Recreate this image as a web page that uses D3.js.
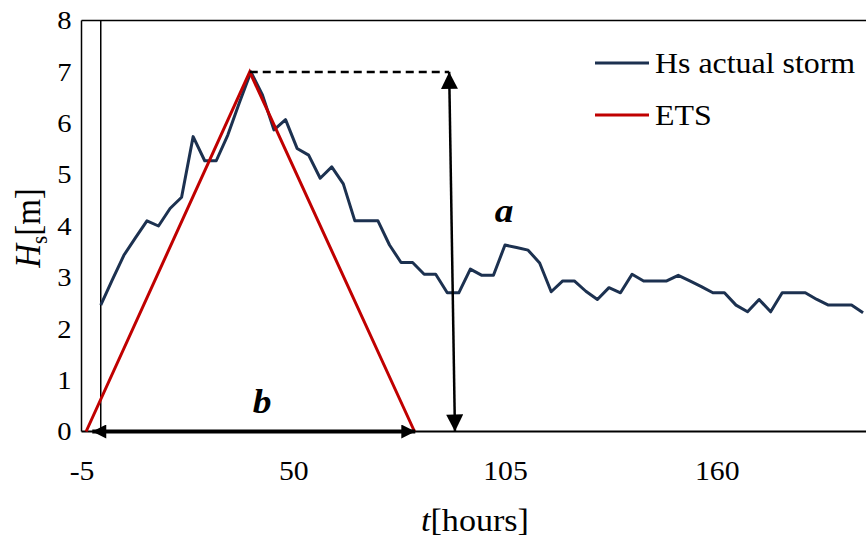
<!DOCTYPE html>
<html>
<head>
<meta charset="utf-8">
<script src="https://cdn.jsdelivr.net/npm/d3@7"></script>
<style>
  body { margin: 0; background: #fff; }
  svg { display: block; font-family: "Liberation Serif", "Times New Roman", serif; }
</style>
</head>
<body>
<svg width="866" height="542"></svg>
<script>
// storm record, one reading every 3 hours
const hours = [0, 3, 6, 9, 12, 15, 18, 21, 24, 27, 30, 33, 36, 39, 42, 45, 48, 51, 54, 57, 60, 63, 66, 69, 72, 75, 78, 81, 84, 87, 90, 93, 96, 99, 102, 105, 108, 111, 114, 117, 120, 123, 126, 129, 132, 135, 138, 141, 144, 147, 150, 153, 156, 159, 162, 165, 168, 171, 174, 177, 180, 183, 186, 189, 192, 195, 198];
const hsActual = [2.46, 2.95, 3.43, 3.77, 4.10, 4.00, 4.34, 4.56, 5.74, 5.27, 5.27, 5.77, 6.40, 7.00, 6.55, 5.87, 6.07, 5.51, 5.38, 4.93, 5.15, 4.82, 4.10, 4.10, 4.10, 3.63, 3.29, 3.29, 3.06, 3.06, 2.70, 2.70, 3.16, 3.04, 3.04, 3.63, 3.58, 3.53, 3.28, 2.72, 2.93, 2.93, 2.73, 2.57, 2.80, 2.70, 3.06, 2.93, 2.93, 2.93, 3.04, 2.93, 2.82, 2.70, 2.70, 2.46, 2.33, 2.57, 2.33, 2.70, 2.70, 2.70, 2.57, 2.46, 2.46, 2.46, 2.31];

// equivalent triangular storm
const etsHours = [-3.8, 38.7, 81.5];
const etsHs = [0, 7, 0];

// annotation arrows
const aArrowHours = [90.5, 92];   // top, bottom
const aArrowHs = [7, 0];
const bArrowHours = [-2.2, 81.7];
const peakHs = 7;

const xTicks = [-5, 50, 105, 160];
const yTicks = [0, 1, 2, 3, 4, 5, 6, 7, 8];
const seriesNames = ["Hs actual storm", "ETS"];
const seriesColors = ["#1c3150", "#c00000"];

const sx = 1.1; // the source image is a bit wider than tall

const svg = d3.select("svg");

const x = d3.scaleLinear().domain([-5, 215]).range([81.5, 928.5]);
const y = d3.scaleLinear().domain([0, 8]).range([431.5, 20.5]);

// plot frame
svg.append("line")
  .attr("x1", x(-5)).attr("x2", 866).attr("y1", y(8)).attr("y2", y(8))
  .attr("stroke", "#000").attr("stroke-width", 1.5);
svg.append("line")
  .attr("x1", x(-5)).attr("x2", x(-5)).attr("y1", y(8)).attr("y2", y(0))
  .attr("stroke", "#000").attr("stroke-width", 1.5);
svg.append("line")
  .attr("x1", x(0)).attr("x2", x(0)).attr("y1", y(8)).attr("y2", y(0))
  .attr("stroke", "#000").attr("stroke-width", 1.5);
svg.append("line")
  .attr("x1", x(-5)).attr("x2", 866).attr("y1", y(0)).attr("y2", y(0))
  .attr("stroke", "#000").attr("stroke-width", 2);

// axes (labels only)
const xAxis = svg.append("g")
  .attr("transform", `translate(0,${y(0)})`)
  .call(d3.axisBottom(x).tickValues(xTicks).tickSize(0).tickPadding(29).tickFormat(d => String(d)));
const yAxis = svg.append("g")
  .attr("transform", `translate(${x(-5)},0)`)
  .call(d3.axisLeft(y).tickValues(yTicks).tickSize(0).tickPadding(9).tickFormat(d => String(d)));
[xAxis, yAxis].forEach(g => {
  g.select(".domain").remove();
  g.selectAll("text")
    .attr("font-family", "Liberation Serif, Times New Roman, serif")
    .attr("font-size", 26)
    .attr("fill", "#000")
    .attr("transform", `scale(${sx},1)`);
});
xAxis.selectAll("text").attr("font-size", 27);

// lines
const line = d3.line().x(d => x(d[0])).y(d => y(d[1]));

svg.append("path")
  .datum(hours.map((h, i) => [h, hsActual[i]]))
  .attr("d", line)
  .attr("fill", "none")
  .attr("stroke", seriesColors[0])
  .attr("stroke-width", 3)
  .attr("stroke-linejoin", "round");

svg.append("path")
  .datum(etsHours.map((h, i) => [h, etsHs[i]]))
  .attr("d", line)
  .attr("fill", "none")
  .attr("stroke", seriesColors[1])
  .attr("stroke-width", 3)
  .attr("stroke-linejoin", "miter");

// arrow markers
const defs = svg.append("defs");
function marker(id, len, wid) {
  defs.append("marker")
    .attr("id", id)
    .attr("markerUnits", "userSpaceOnUse")
    .attr("viewBox", "0 0 10 10")
    .attr("refX", 10).attr("refY", 5)
    .attr("markerWidth", len).attr("markerHeight", wid)
    .attr("orient", "auto-start-reverse")
    .append("path")
    .attr("d", "M0,0 L10,5 L0,10 z")
    .attr("fill", "#000");
}
marker("headA", 18, 17);
marker("headB", 20, 14);

// dashed peak line
svg.append("line")
  .attr("x1", x(etsHours[1])).attr("x2", x(aArrowHours[0]))
  .attr("y1", y(peakHs)).attr("y2", y(peakHs))
  .attr("stroke", "#000").attr("stroke-width", 2.5)
  .attr("stroke-dasharray", "8,5");

// a arrow
svg.append("line")
  .attr("x1", x(aArrowHours[0])).attr("y1", y(aArrowHs[0]))
  .attr("x2", x(aArrowHours[1])).attr("y2", y(aArrowHs[1]))
  .attr("stroke", "#000").attr("stroke-width", 2.5)
  .attr("marker-start", "url(#headA)")
  .attr("marker-end", "url(#headA)");

// b arrow
svg.append("line")
  .attr("x1", x(bArrowHours[0])).attr("y1", y(0))
  .attr("x2", x(bArrowHours[1])).attr("y2", y(0))
  .attr("stroke", "#000").attr("stroke-width", 4)
  .attr("marker-start", "url(#headB)")
  .attr("marker-end", "url(#headB)");

// text helper
function label(px, py, size, opts = {}) {
  const t = svg.append("text")
    .attr("transform", `translate(${px},${py}) ${opts.rotate ? "rotate(-90) scale(1," + sx + ")" : "scale(" + sx + ",1)"}`)
    .attr("font-size", size)
    .attr("text-anchor", opts.anchor || "start")
    .attr("fill", "#000");
  if (opts.bold) t.attr("font-weight", "bold");
  if (opts.italic) t.attr("font-style", "italic");
  return t;
}

label(504, 222, 34, { anchor: "middle", bold: true, italic: true }).text("a");
label(262, 413, 34, { anchor: "middle", bold: true, italic: true }).text("b");

// x title
const xt = label(475, 531, 31, { anchor: "middle" });
xt.append("tspan").attr("font-style", "italic").text("t");
xt.append("tspan").text("[hours]");

// y title
const yt = label(40, 228, 33, { anchor: "middle", rotate: true });
yt.append("tspan").attr("font-style", "italic").text("H");
yt.append("tspan").attr("font-size", 21).attr("dy", 6).text("s");
yt.append("tspan").attr("dy", -6).text("[m]");

// legend
seriesNames.forEach((name, i) => {
  const ly = 63 + i * 52;
  svg.append("line")
    .attr("x1", 595).attr("x2", 649).attr("y1", ly).attr("y2", ly)
    .attr("stroke", seriesColors[i]).attr("stroke-width", 3);
  label(655, ly + 10, 29).text(name);
});
</script>
</body>
</html>
